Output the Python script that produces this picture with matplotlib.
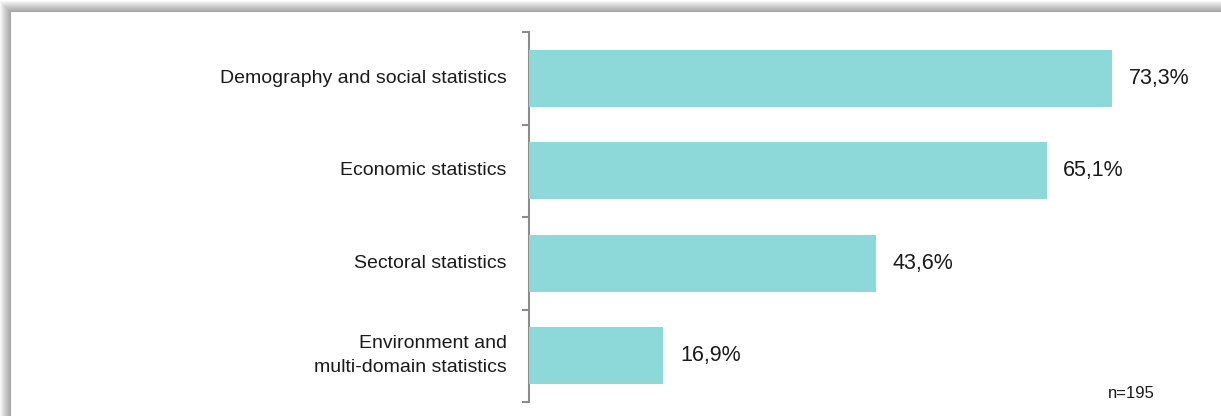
import matplotlib.pyplot as plt
from matplotlib.patches import Rectangle
from matplotlib import font_manager

categories = ['Demography and social statistics', 'Economic statistics',
              'Sectoral statistics', 'Environment and\nmulti-domain statistics']
shares = [73.3, 65.1, 43.6, 16.9]
sample_note = 'n=195'

names = {f.name for f in font_manager.fontManager.ttflist}
family = ['Liberation Sans Narrow', 'DejaVu Sans'] if 'Liberation Sans Narrow' in names \
    else ['Liberation Sans', 'DejaVu Sans']
plt.rcParams['font.family'] = family

W, H = 1221, 416
fig = plt.figure(figsize=(W / 100, H / 100), dpi=100)

# panel frame with a soft shadow on the top and left edges
for i in range(10):
    off = 10 - i
    fig.patches.append(Rectangle(((10 - off) / W, 0), 1, (H - 11 + off) / H,
                                 transform=fig.transFigure, facecolor='black',
                                 alpha=0.035, edgecolor='none', zorder=0))
fig.patches.append(Rectangle((10 / W, -0.1), 1, (H - 11) / H + 0.1,
                             transform=fig.transFigure, facecolor='white',
                             edgecolor='#a8a8a8', linewidth=0.8, zorder=1))

ax = fig.add_axes([529 / W, 14 / H, 636 / W, 370 / H])
ax.set_facecolor('none')
ax.set_zorder(2)

y = list(range(len(categories)))
ax.barh(y, shares, height=0.62, color='#8dd9da', zorder=3)
for yi, v in zip(y, shares):
    ax.text(v + 2.1, yi, f'{v:.1f}'.replace('.', ',') + '%', va='center',
            ha='left', fontsize=15.5, color='#1a1a1a')

ax.set_xlim(0, 80)
ax.set_ylim(len(categories) - 0.5, -0.5)
ax.set_yticks(y)
ax.set_yticklabels(categories, fontsize=14, color='#1a1a1a', ha='right',
                   va='center', multialignment='right', linespacing=1.5)
ax.tick_params(axis='y', which='major', length=0, pad=16)
ax.set_yticks([i - 0.5 for i in range(len(categories) + 1)], minor=True)
ax.tick_params(axis='y', which='minor', length=5, width=1.5, color='#8c8c8c',
               direction='out')
ax.set_xticks([])
for s in ['top', 'right', 'bottom']:
    ax.spines[s].set_visible(False)
ax.spines['left'].set_color('#8c8c8c')
ax.spines['left'].set_linewidth(1.5)

fig.text(1131 / W, 1 - 393 / H, sample_note, ha='center', va='center',
         fontsize=12, color='#1a1a1a', zorder=5)

fig.savefig('out.png', dpi=100)
